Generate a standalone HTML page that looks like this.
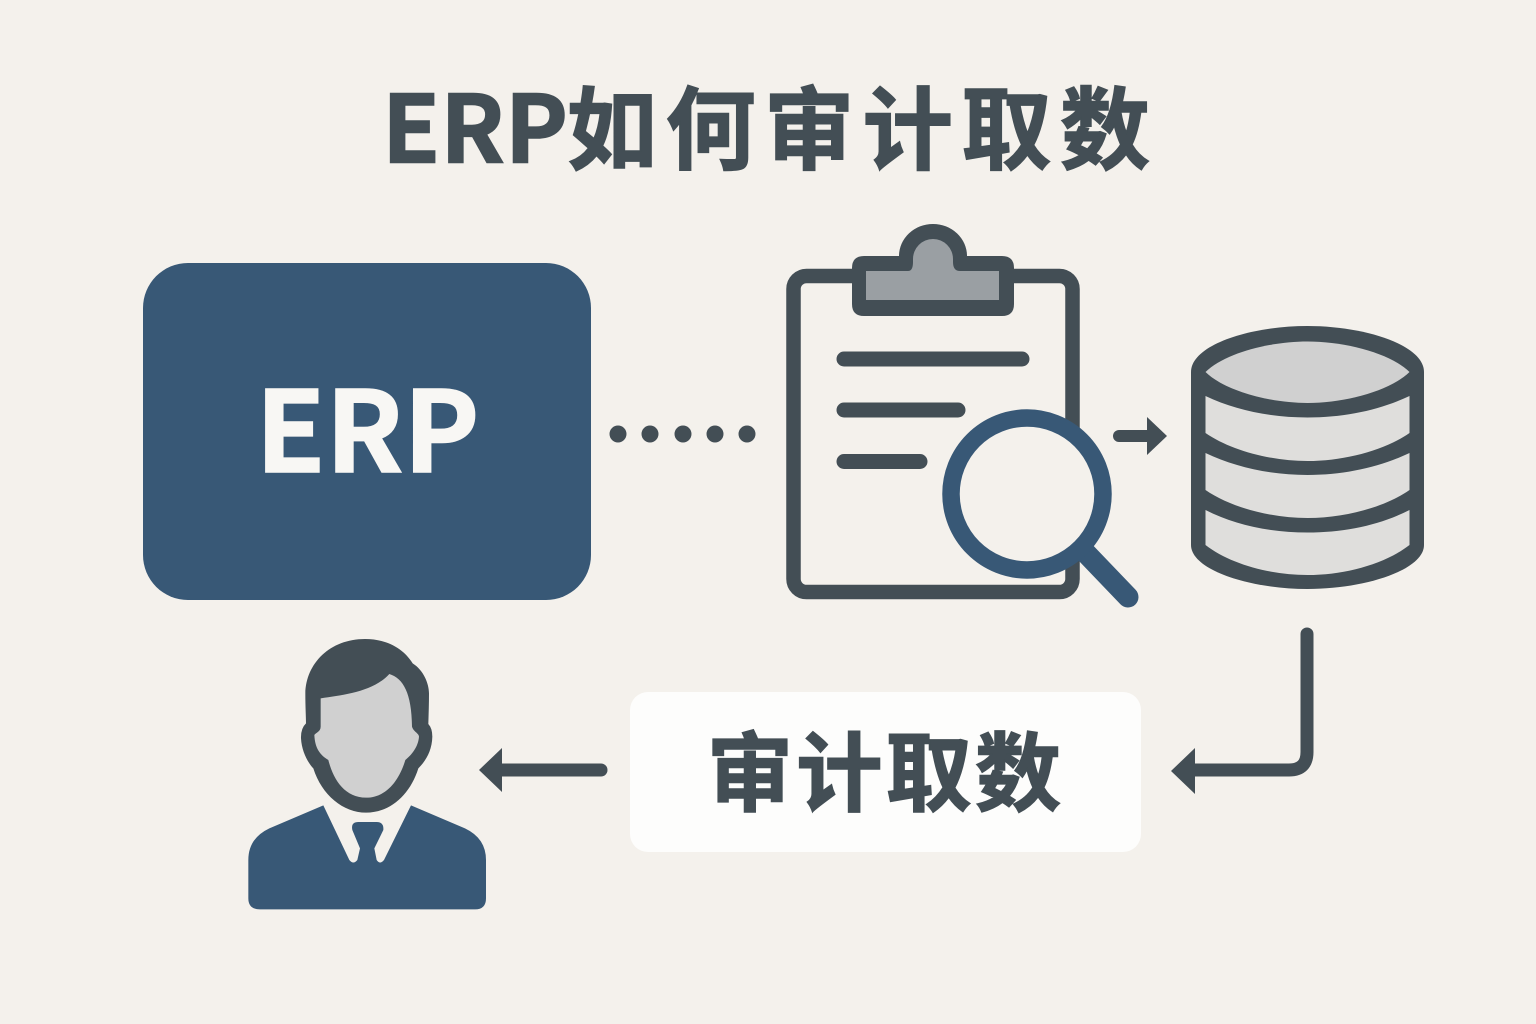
<!DOCTYPE html>
<html><head><meta charset="utf-8"><style>
html,body{margin:0;padding:0;background:#f4f1ec}
svg{display:block}
text{font-family:"Noto Sans CJK SC","Liberation Sans",sans-serif;font-weight:700}
</style></head><body>
<svg width="1536" height="1024" viewBox="0 0 1536 1024" xmlns="http://www.w3.org/2000/svg">
<rect width="1536" height="1024" fill="#f4f1ec"/>
<text x="382" y="162.5" font-size="93" fill="#434e55" stroke="#434e55" stroke-width="1.5" textLength="186" lengthAdjust="spacingAndGlyphs">ERP</text>
<text x="567" y="162" font-size="90" fill="#434e55" stroke="#434e55" stroke-width="1.5" textLength="583" lengthAdjust="spacing">如何审计取数</text>
<rect x="143" y="263" width="448" height="337" rx="45" fill="#385876"/>
<text x="255.5" y="472" font-size="112" fill="#f8f7f4" stroke="#f8f7f4" stroke-width="1.5" textLength="224" lengthAdjust="spacingAndGlyphs">ERP</text>
<g fill="#434e55"><circle cx="618" cy="434" r="8.5"/><circle cx="650" cy="434" r="8.5"/><circle cx="683" cy="434" r="8.5"/><circle cx="715" cy="434" r="8.5"/><circle cx="747" cy="434" r="8.5"/></g>
<!-- clipboard -->
<rect x="793.5" y="276" width="279" height="316" rx="13" fill="none" stroke="#434e55" stroke-width="14.5"/>
<path d="M852,268Q852,256 864,256L899,256A34,32 0 0 1 967,256L1002,256Q1014,256 1014,268L1014,304Q1014,316 1002,316L864,316Q852,316 852,304Z" fill="#434e55"/>
<path d="M866,271L908,271Q913,271 913,262L913,259A20,20 0 0 1 953,259L953,262Q953,271 960,271L999,271L999,300L866,300Z" fill="#9a9fa3"/>
<g stroke="#434e55" stroke-width="15" stroke-linecap="round"><path d="M844,359H1022M844,410H958M844,461.5H920"/></g>
<!-- magnifier -->
<path d="M1082,549L1128,597" stroke="#385876" stroke-width="21" stroke-linecap="round"/>
<circle cx="1027" cy="494" r="76" fill="#f4f1ec" stroke="#385876" stroke-width="17.5"/>
<!-- small arrow -->
<path d="M1119,436H1150" stroke="#434e55" stroke-width="12" stroke-linecap="round"/>
<path d="M1147,417L1167,436L1147,455Z" fill="#434e55"/>
<!-- database -->
<path d="M1191,372C1191,345 1250,326 1307.5,326C1365,326 1424,345 1424,372V545C1424,570 1365,589 1307.5,589C1250,589 1191,570 1191,545Z" fill="#434e55"/>
<path d="M1205.5,372C1225,353 1270,341.5 1307.5,341.5C1345,341.5 1390,353 1409.5,372C1390,391 1345,403 1307.5,403C1270,403 1225,391 1205.5,372Z" fill="#d0d0d0"/>
<g fill="#dfdedc">
<path d="M1205.5,396C1235,410 1270,417.5 1307.5,417.5C1345,417.5 1380,410 1409.5,396V433C1385,450 1345,461 1307.5,461C1270,461 1230,450 1205.5,433Z"/>
<path d="M1205.5,453C1235,467 1270,475 1307.5,475C1345,475 1380,467 1409.5,453V490C1385,507 1345,518 1307.5,518C1270,518 1230,507 1205.5,490Z"/>
<path d="M1205.5,510C1235,525 1270,532.5 1307.5,532.5C1345,532.5 1380,525 1409.5,510V545C1385,564 1345,575 1307.5,575C1270,575 1230,564 1205.5,545Z"/>
</g>
<!-- connector -->
<path d="M1307,634V752Q1307,770 1289,770H1190" fill="none" stroke="#434e55" stroke-width="13" stroke-linecap="round"/>
<path d="M1171,771L1195,748V794Z" fill="#434e55"/>
<!-- white box -->
<rect x="630" y="692" width="511" height="160" rx="18" fill="#fdfdfc"/>
<text x="707" y="804" font-size="86" fill="#434e55" stroke="#434e55" stroke-width="1.5" textLength="354" lengthAdjust="spacing">审计取数</text>
<!-- left arrow -->
<path d="M495,770H601" stroke="#434e55" stroke-width="13" stroke-linecap="round"/>
<path d="M479,770L502,748V792Z" fill="#434e55"/>
<!-- person -->
<g transform="translate(230 620) scale(.33333)">
<path d="M280,556L118,625Q55,655 55,720L55,835Q55,868 90,868L735,868Q768,868 768,835L768,720Q768,655 705,625L543,556L462,720Q450,735 440,720L433,685L460,630Q462,606 440,606L385,606Q362,606 367,630L390,685L382,720Q370,735 358,720Z" fill="#385876"/>
<path d="M405,57C300,57 228,130 226,220C226,260 228,290 228,310Q212,325 213,355C215,395 235,430 250,445C275,525 340,578 408,578C480,578 540,525 565,445C585,425 606,395 607,350Q607,325 595,312C596,280 597,250 597,220C597,190 580,150 548,130C520,85 470,57 405,57Z" fill="#434e55"/>
<path d="M272,235C340,225 430,215 478,162C520,175 545,220 546,320C550,335 567,340 567,350C565,380 545,405 526,420C508,480 470,533 408,533C345,533 310,480 295,420C270,405 255,385 253,345C258,338 272,335 272,320Z" fill="#d0d0d0"/>
</g>
</svg>
</body></html>
